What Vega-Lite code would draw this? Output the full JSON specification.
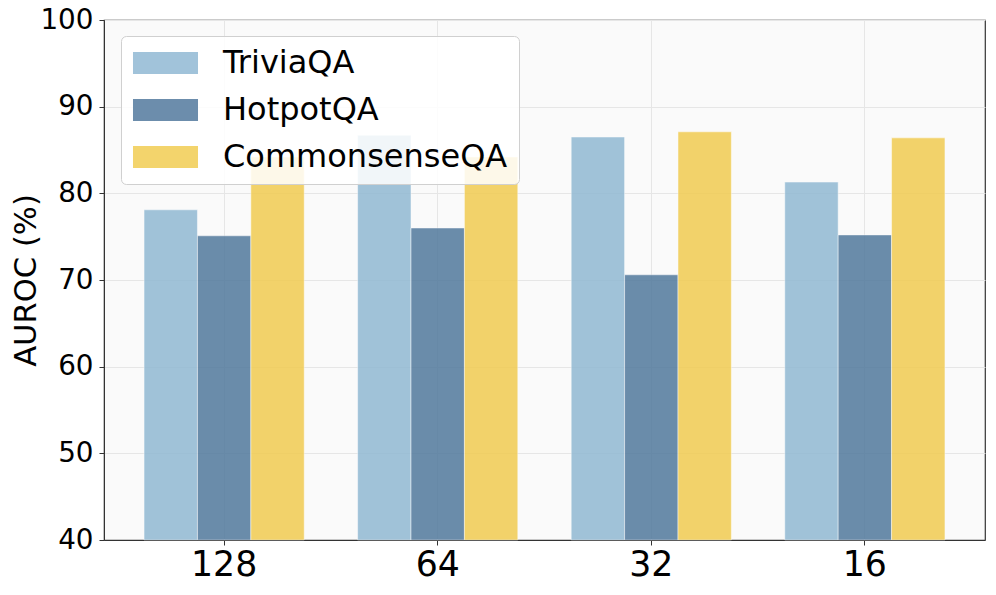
{
  "$schema": "https://vega.github.io/schema/vega-lite/v6.json",
  "width": 881,
  "height": 520,
  "autosize": {"type": "none"},
  "padding": {"left": 104, "top": 20, "right": 11, "bottom": 55},
  "background": "white",
  "data": {
    "values": [
      {"k": "128", "dataset": "TriviaQA", "auroc": 78.1},
      {"k": "128", "dataset": "HotpotQA", "auroc": 75.1},
      {"k": "128", "dataset": "CommonsenseQA", "auroc": 84.2},
      {"k": "64", "dataset": "TriviaQA", "auroc": 86.7},
      {"k": "64", "dataset": "HotpotQA", "auroc": 76.0},
      {"k": "64", "dataset": "CommonsenseQA", "auroc": 84.2},
      {"k": "32", "dataset": "TriviaQA", "auroc": 86.5},
      {"k": "32", "dataset": "HotpotQA", "auroc": 70.6},
      {"k": "32", "dataset": "CommonsenseQA", "auroc": 87.1},
      {"k": "16", "dataset": "TriviaQA", "auroc": 81.3},
      {"k": "16", "dataset": "HotpotQA", "auroc": 75.2},
      {"k": "16", "dataset": "CommonsenseQA", "auroc": 86.4}
    ]
  },
  "mark": {"type": "bar", "opacity": 0.85, "stroke": "white", "strokeWidth": 0.8, "strokeOpacity": 0.6},
  "encoding": {
    "x": {
      "field": "k",
      "type": "nominal",
      "sort": ["128", "64", "32", "16"],
      "scale": {"paddingInner": 0.25, "paddingOuter": 0.1875},
      "axis": {
        "title": null,
        "labelAngle": 0,
        "labelFontSize": 34.7,
        "labelFont": "DejaVu Sans",
        "labelColor": "black",
        "labelPadding": 3,
        "tickSize": 5,
        "tickColor": "#333333",
        "domainColor": "#333333",
        "grid": true,
        "gridColor": "#e6e6e6",
        "bandPosition": 0.5
      }
    },
    "xOffset": {"field": "dataset", "type": "nominal", "sort": ["TriviaQA", "HotpotQA", "CommonsenseQA"], "scale": {"paddingInner": 0, "paddingOuter": 0}},
    "y": {
      "field": "auroc",
      "type": "quantitative",
      "scale": {"domain": [40, 100], "zero": false, "clamp": true, "nice": false},
      "axis": {
        "title": "AUROC (%)",
        "titleFont": "DejaVu Sans",
        "titleFontSize": 30.6,
        "titleFontWeight": "normal",
        "titleColor": "black",
        "titlePadding": -2,
        "values": [40, 50, 60, 70, 80, 90, 100],
        "labelFontSize": 27.8,
        "labelFont": "DejaVu Sans",
        "labelColor": "black",
        "labelPadding": 6,
        "tickSize": 5,
        "tickColor": "#333333",
        "domainColor": "#333333",
        "gridColor": "#e6e6e6"
      }
    },
    "color": {
      "field": "dataset",
      "type": "nominal",
      "sort": ["TriviaQA", "HotpotQA", "CommonsenseQA"],
      "scale": {"domain": ["TriviaQA", "HotpotQA", "CommonsenseQA"], "range": ["#91b9d3", "#52799d", "#f1cc52"]},
      "legend": {
        "title": null,
        "orient": "none",
        "legendX": 17,
        "legendY": 16,
        "labelFont": "DejaVu Sans",
        "labelFontSize": 32,
        "labelLimit": 500,
        "labelColor": "black",
        "labelOffset": 41.5,
        "symbolType": "M-2.955,-1H2.955V1H-2.955Z",
        "symbolSize": 484,
        "symbolOffset": 17.5,
        "symbolOpacity": 0.85,
        "symbolStrokeWidth": 0,
        "rowPadding": 15,
        "padding": 11,
        "fillColor": "rgba(255,255,255,0.85)",
        "strokeColor": "#d0d0d0",
        "cornerRadius": 5
      }
    }
  },
  "config": {
    "view": {"fill": "#fafafa", "stroke": "#333333", "strokeWidth": 1.2}
  }
}
